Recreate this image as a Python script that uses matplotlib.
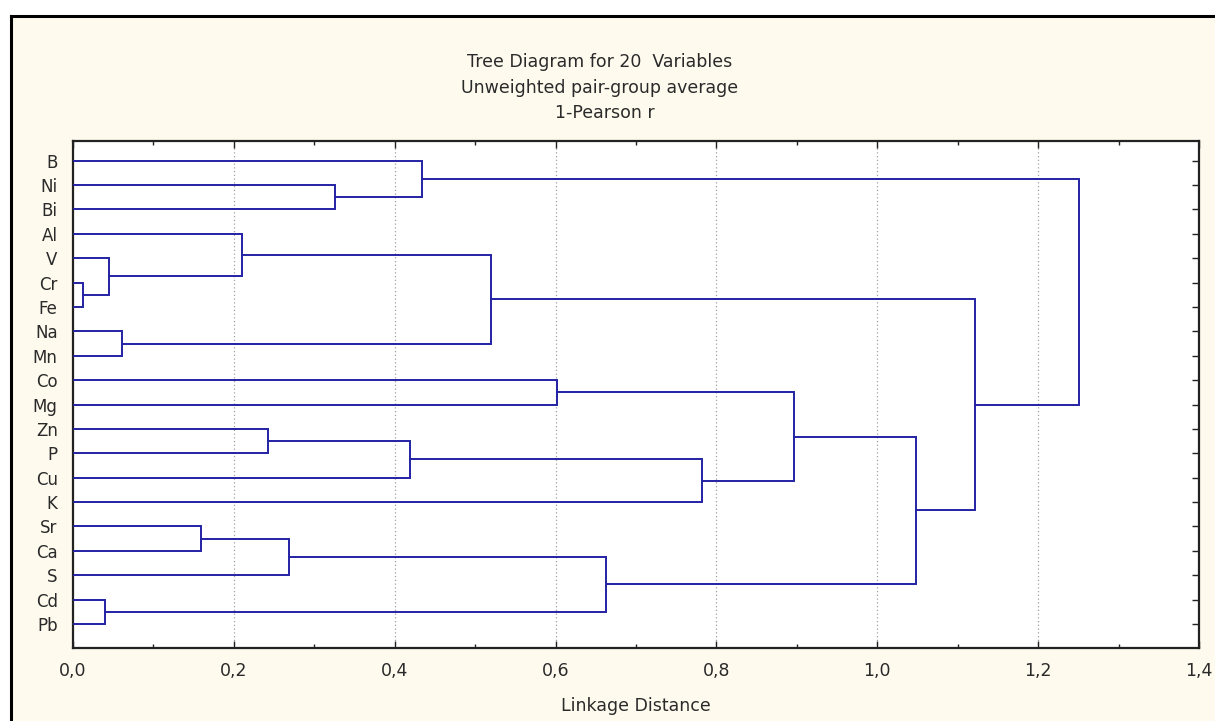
import matplotlib
matplotlib.use("Agg")
from matplotlib import pyplot as plt
from matplotlib.lines import Line2D
from matplotlib.patches import Rectangle
from matplotlib.ticker import MultipleLocator, FuncFormatter

plt.rcParams['font.family'] = ['DejaVu Sans']

# leaf order as drawn top to bottom
labels = ['B', 'Ni', 'Bi', 'Al', 'V', 'Cr', 'Fe', 'Na', 'Mn', 'Co',
          'Mg', 'Zn', 'P', 'Cu', 'K', 'Sr', 'Ca', 'S', 'Cd', 'Pb']

# merges, scipy style: leaves are 0..19, merge i makes cluster 20+i
merge_left = [5, 18, 4, 7, 15, 3, 11, 24, 1, 26, 0, 25, 9, 27, 29, 32, 35, 31, 30]
merge_right = [6, 19, 20, 8, 16, 22, 12, 17, 2, 13, 28, 23, 10, 21, 14, 34, 33, 36, 37]
merge_height = [0.013, 0.040, 0.045, 0.061, 0.159, 0.210, 0.243, 0.269, 0.326, 0.419,
                0.434, 0.520, 0.602, 0.663, 0.782, 0.896, 1.048, 1.122, 1.251]

LINE = '#2222a4'
TEXT = '#2a2a2a'
CREAM = '#fefaee'

fig = plt.figure(figsize=(12.15, 7.21), dpi=100, facecolor=CREAM)

# white margin + black frame like the statistica window
fig.add_artist(Rectangle((0, 0), 10 / 1215, 1, transform=fig.transFigure,
                         facecolor='white', edgecolor='none', zorder=0))
fig.add_artist(Rectangle((0, 1 - 15 / 721), 1, 15 / 721, transform=fig.transFigure,
                         facecolor='white', edgecolor='none', zorder=0))
fig.add_artist(Line2D([11 / 1215, 11 / 1215], [0, 1 - 16 / 721], transform=fig.transFigure,
                      color='black', lw=2.2))
fig.add_artist(Line2D([11 / 1215, 1], [1 - 16 / 721, 1 - 16 / 721], transform=fig.transFigure,
                      color='black', lw=2.2))

ax = fig.add_axes([73 / 1215, 1 - 648 / 721, (1199 - 73) / 1215, (648 - 141) / 721])
ax.set_facecolor('white')

# walk the merges, parent sits at the middle of its two children
n = len(labels)
pos_y = {i: float(i) for i in range(n)}
pos_x = {i: 0.0 for i in range(n)}
for k, (a, b, h) in enumerate(zip(merge_left, merge_right, merge_height)):
    ya, yb = pos_y[a], pos_y[b]
    ax.plot([pos_x[a], h, h, pos_x[b]], [ya, ya, yb, yb], color=LINE, lw=1.4,
            solid_joinstyle='miter', zorder=3)
    pos_y[n + k] = (ya + yb) / 2
    pos_x[n + k] = h

ax.set_xlim(0, 1.4)
ax.set_ylim(19.98, -0.8)

ax.set_yticks(range(n))
ax.set_yticklabels(labels, fontsize=12, color=TEXT)
ax.tick_params(axis='y', left=False, right=True, direction='in', length=5,
               width=1, pad=11, color='#222222')

ax.xaxis.set_major_locator(MultipleLocator(0.2))
ax.xaxis.set_minor_locator(MultipleLocator(0.1))
ax.xaxis.set_major_formatter(FuncFormatter(lambda v, p: f'{v:.1f}'.replace('.', ',')))
ax.tick_params(axis='x', which='both', top=True, bottom=True, direction='in',
               color='#222222', labelsize=12.5, labelcolor=TEXT, pad=10)
ax.tick_params(axis='x', which='major', length=5, width=1)
ax.tick_params(axis='x', which='minor', length=3, width=1)

for v in [0.2, 0.4, 0.6, 0.8, 1.0, 1.2]:
    ax.axvline(v, color='#a0a0a0', lw=0.9, ls=(0, (1, 2)), zorder=1)

for s in ax.spines.values():
    s.set_color('#222222')
    s.set_linewidth(1.6)

ax.set_xlabel('Linkage Distance', fontsize=12.5, color=TEXT, labelpad=12)

fig.text(600 / 1215, 1 - 62 / 721, 'Tree Diagram for 20  Variables', ha='center', va='center',
         fontsize=12.5, color=TEXT)
fig.text(600 / 1215, 1 - 88 / 721, 'Unweighted pair-group average', ha='center', va='center',
         fontsize=12.5, color=TEXT)
fig.text(605 / 1215, 1 - 113 / 721, '1-Pearson r', ha='center', va='center',
         fontsize=12.5, color=TEXT)

fig.savefig('out.png', dpi=100, facecolor=CREAM)
